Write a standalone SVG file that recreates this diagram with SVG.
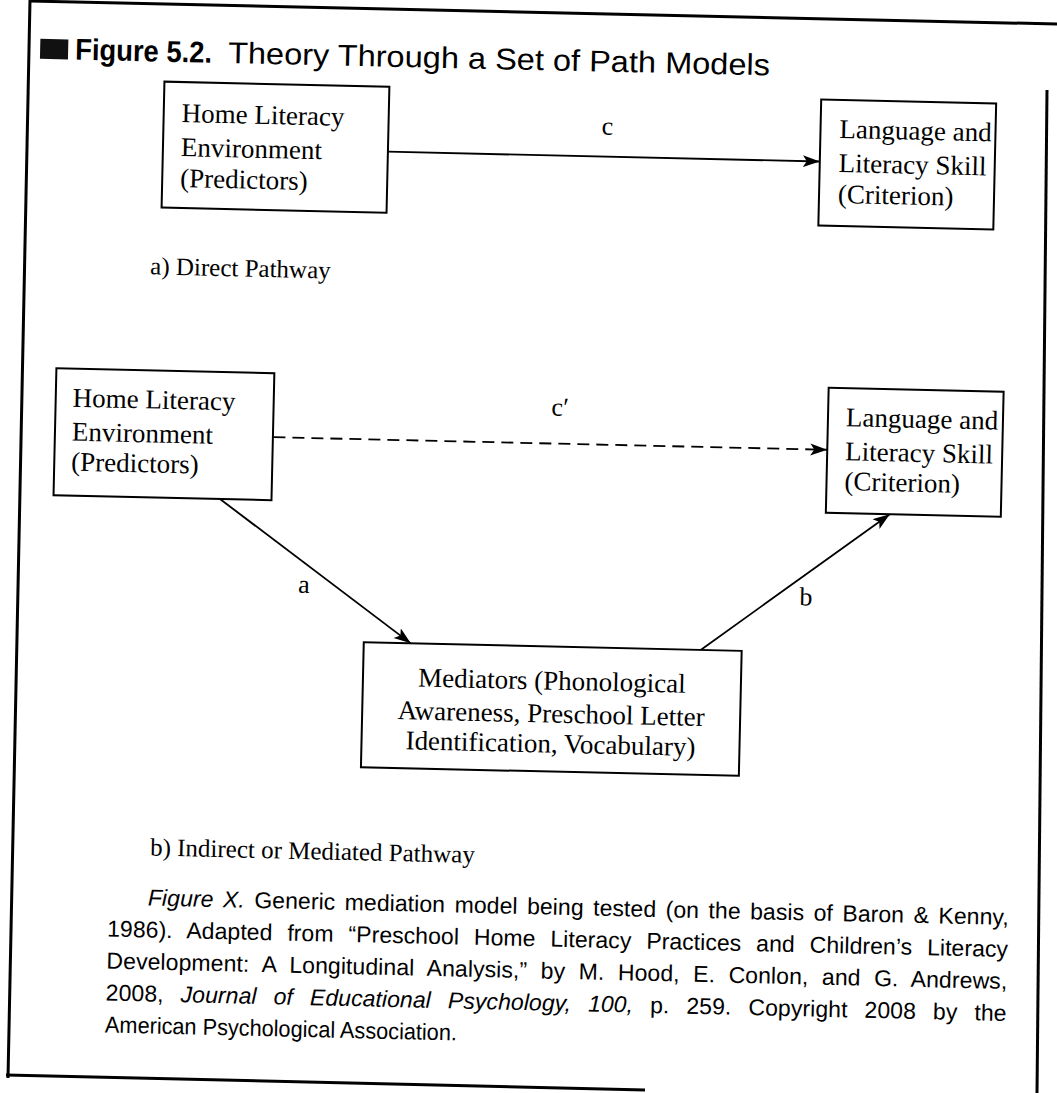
<svg xmlns="http://www.w3.org/2000/svg" width="1057" height="1093" viewBox="0 0 1057 1093">
<style>
.box{fill:#fff;stroke:#000;stroke-width:2}
.t{font-family:"Liberation Serif","Times New Roman",serif;font-size:27px;fill:#000}
.lbl{font-family:"Liberation Serif","Times New Roman",serif;font-size:26px;fill:#000}
.cap{font-family:"Liberation Serif","Times New Roman",serif;font-size:25px;fill:#000}
.p{font-family:"Liberation Sans",Arial,sans-serif;font-size:23px;fill:#000}
.ttl{font-family:"Liberation Sans",Arial,sans-serif;font-size:30px;fill:#000}
.edge{stroke:#000;stroke-width:3;fill:none}
.con{stroke:#000;stroke-width:1.8;fill:none}
.dash{stroke-dasharray:12 7}
</style>
<defs>
<marker id="ah" markerUnits="userSpaceOnUse" markerWidth="20" markerHeight="14" refX="17" refY="6" orient="auto">
<path d="M0,0 L17,6 L0,12 L4,6 z" fill="#000"/>
</marker>
</defs>
<rect width="1057" height="1093" fill="#fff"/>
<g id="frame" class="edge">
<line x1="30" y1="1" x2="1057" y2="24"/>
<line x1="30" y1="0" x2="8" y2="1078"/>
<line x1="6" y1="1075" x2="645" y2="1090"/>
<line x1="1047" y1="90" x2="1037" y2="1093"/>
</g>
<g transform="rotate(1.3 528 546)">
<g id="title">
<rect x="29" y="50" width="28" height="20" fill="#111"/>
<text class="ttl" x="64" y="70" font-weight="bold" textLength="137" lengthAdjust="spacingAndGlyphs">Figure 5.2.</text>
<text class="ttl" x="217" y="70" textLength="542" lengthAdjust="spacingAndGlyphs">Theory Through a Set of Path Models</text>
</g>
<g id="connectors">
<line class="con" x1="379" y1="155" x2="811" y2="155" marker-end="url(#ah)"/>
<line class="con dash" x1="271" y1="443" x2="825" y2="443" marker-end="url(#ah)"/>
<line class="con" x1="219" y1="506" x2="413" y2="646" marker-end="url(#ah)"/>
<line class="con" x1="703" y1="646" x2="889" y2="506" marker-end="url(#ah)"/>
<text class="lbl" x="598" y="133" text-anchor="middle">c</text>
<text class="lbl" x="557" y="415" text-anchor="middle">c′</text>
<text class="lbl" x="305" y="598" text-anchor="middle">a</text>
<text class="lbl" x="807" y="599" text-anchor="middle">b</text>
</g>
<g id="n1">
<rect class="box" x="154" y="90" width="225" height="126"/>
<text class="t" x="172" y="130">Home Literacy</text>
<text class="t" x="172" y="164">Environment</text>
<text class="t" x="172" y="195">(Predictors)</text>
</g>
<g id="n2">
<rect class="box" x="811" y="93" width="175" height="126"/>
<text class="t" x="830" y="131">Language and</text>
<text class="t" x="830" y="165">Literacy Skill</text>
<text class="t" x="830" y="196">(Criterion)</text>
</g>
<text class="cap" x="144" y="283">a) Direct Pathway</text>
<g id="n3">
<rect class="box" x="52.5" y="379" width="218" height="127"/>
<text class="t" x="69.5" y="417">Home Literacy</text>
<text class="t" x="69.5" y="451">Environment</text>
<text class="t" x="69.5" y="481">(Predictors)</text>
</g>
<g id="n4">
<rect class="box" x="825" y="381" width="175" height="125"/>
<text class="t" x="843" y="419">Language and</text>
<text class="t" x="843" y="453">Literacy Skill</text>
<text class="t" x="843" y="483">(Criterion)</text>
</g>
<g id="n5">
<rect class="box" x="366" y="646" width="378" height="125"/>
<text class="t" x="555" y="689" text-anchor="middle">Mediators (Phonological</text>
<text class="t" x="555" y="722" text-anchor="middle">Awareness, Preschool Letter</text>
<text class="t" x="555" y="752" text-anchor="middle">Identification, Vocabulary)</text>
</g>
<text class="cap" x="157" y="864">b) Indirect or Mediated Pathway</text>
<g id="caption">
<text class="p" x="156" y="914" word-spacing="3" textLength="861" lengthAdjust="spacing"><tspan font-style="italic">Figure X.</tspan> Generic mediation model being tested (on the basis of Baron &amp; Kenny,</text>
<text class="p" x="116" y="946" word-spacing="8.5" textLength="901" lengthAdjust="spacing">1986). Adapted from “Preschool Home Literacy Practices and Children’s Literacy</text>
<text class="p" x="116" y="978" word-spacing="7" textLength="901" lengthAdjust="spacing">Development: A Longitudinal Analysis,” by M. Hood, E. Conlon, and G. Andrews,</text>
<text class="p" x="116" y="1010" word-spacing="10.5" textLength="901" lengthAdjust="spacing">2008, <tspan font-style="italic">Journal of Educational Psychology, 100,</tspan> p. 259. Copyright 2008 by the</text>
<text class="p" x="116" y="1042" textLength="352" lengthAdjust="spacingAndGlyphs">American Psychological Association.</text>
</g>
</g>
</svg>
